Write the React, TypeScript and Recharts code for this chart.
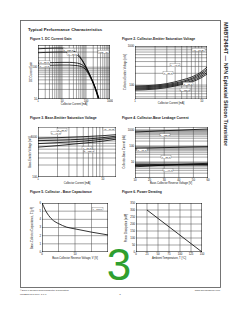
import React from 'react';
import { LineChart, Line, XAxis, YAxis } from 'recharts';

const FONT = '"Liberation Sans", Arial, Helvetica, sans-serif';

// ---------- Figure 1: DC Current Gain ----------
const f1XTicks = [1, 2, 3, 4, 5, 6, 7, 8, 9, 10, 20, 30, 40, 50, 60, 70, 80, 90, 100, 200, 300, 400, 500, 600, 700, 800, 900, 1000];
const f1YTicks = [10, 20, 30, 40, 50, 60, 70, 80, 90, 100, 200, 300, 400, 500];
const f1XLabels = [1, 10, 100, 1000];
const f1YLabels = [10, 100];
const f1X_125 = [1, 2, 5, 10, 13, 20, 35, 56, 91, 146, 237, 350];
const f1Y_125 = [380, 390, 400, 400, 390, 360, 307, 214, 117, 57, 24, 10.5];
const f1X_75 = [1, 2, 5, 10, 20, 35, 56, 91, 146, 237, 340];
const f1Y_75 = [285, 292, 298, 300, 290, 265, 200, 115, 56, 23.5, 10.5];
const f1X_25 = [1, 2, 5, 10, 20, 35, 56, 91, 146, 237, 330];
const f1Y_25 = [135, 138, 140, 142, 142, 138, 128, 100, 54, 23, 10.5];
const f1X_m40 = [1, 2, 5, 10, 20, 35, 56, 91, 146, 237, 320];
const f1Y_m40 = [112, 114, 116, 117, 117, 114, 108, 88, 50, 22, 10.5];

// ---------- Figure 2: Collector-Emitter Saturation Voltage ----------
const f2XTicks = [1, 2, 3, 4, 5, 6, 7, 8, 9, 10];
const f2YTicks = [50, 60, 70, 80, 90, 100, 200, 300, 400, 500, 600, 700, 800, 900, 1000];
const f2XLabels = [1, 10];
const f2YLabels = [100, 1000];
const f2X = [1, 2, 3, 5, 7, 10, 12];
const f2Y_a = [94.3, 100, 109, 134, 160, 222, 289];
const f2Y_b = [88.9, 94.3, 103, 123, 147, 203, 257];
const f2Y_c = [83.8, 88.9, 97, 116, 138, 186, 235];
const f2Y_d = [79, 83.8, 91.5, 109, 127, 170, 209];
const f2Y_e = [74.5, 79, 86.3, 103, 119, 156, 191];

// ---------- Figure 3: Base-Emitter Saturation Voltage ----------
const f3XTicks = [1, 2, 3, 4, 5, 6, 7, 8, 9, 10];
const f3YTicks = [100, 200, 300, 400, 500, 600, 700, 800, 900, 1000];
const f3XLabels = [1, 10];
const f3YLabels = [100, 1000];
const f3X = [1, 2, 5, 10, 16];
const f3Y_m40 = [944, 971, 1029, 1090, 1155];
const f3Y_25 = [818, 841, 891, 971, 1059];
const f3Y_75 = [688, 729, 794, 891, 971];
const f3Y_125 = [562, 613, 708, 794, 891];

// ---------- Figure 4: Collector-Base Leakage Current ----------
const f4XTicks = [10, 20, 30, 40, 50, 60];
const f4YTicks = [1, 2, 3, 4, 5, 6, 7, 8, 9, 10, 20, 30, 40, 50, 60, 70, 80, 90, 100, 200, 300, 400, 500, 600, 700, 800, 900, 1000];
const f4XLabels = [10, 20, 30, 40, 50, 60];
const f4YLabels = [10, 100, 1000];
const f4X = [10, 20, 30, 40, 50, 60];
const f4Y_125 = [731, 800, 880, 950, 1040, 1125];
const f4Y_75 = [71, 74, 78, 82, 86, 89];
const f4Y_25a = [7.1, 7.0, 6.8, 6.7, 6.6, 6.45];
const f4Y_25b = [5.0, 5.6, 6.3, 7.0, 7.6, 8.2];
const f4Y_25c = [6.0, 6.1, 6.3, 6.5, 6.8, 7.0];

// ---------- Figure 5: Collector-Base Capacitance ----------
const f5XTicks = [0, 5, 10, 15, 20];
const f5YTicks = [0, 1, 2, 3, 4, 5, 6];
const f5XLabels = [0, 10];
const f5YLabels = [0, 1, 2, 3, 4, 5, 6];
const f5X = [0, 0.5, 1, 2, 3.5, 5, 7.5, 10, 15, 20];
const f5Y = [6.0, 5.57, 5.13, 4.48, 3.83, 3.48, 3.04, 2.83, 2.43, 2.09];

// ---------- Figure 6: Power Derating ----------
const f6XTicks = [0, 25, 50, 75, 100, 125, 150];
const f6YTicks = [0, 50, 100, 150, 200, 250, 300, 350];
const f6X = [25, 150];
const f6Y = [300, 0];

const zip = (xs: number[], ys: number[]) => xs.map((x, i) => ({ x, y: ys[i] }));

type Series = { x: number[]; y: number[] };
interface PanelProps {
  px: number; py: number; pw: number; ph: number;
  xScale: 'log' | 'linear'; yScale: 'log' | 'linear';
  xDomain: [number, number]; yDomain: [number, number];
  xTicks: number[]; yTicks: number[];
  xLabels: number[]; yLabels: number[];
  series: Series[];
}

function Panel(p: PanelProps) {
  const yw = 15, xh = 5, ml = 1, mt = 2, mr = 3, mb = 1;
  const tickStyle = { fontSize: 2.8, fill: '#111', fontFamily: FONT };
  const [x0, x1] = p.xDomain;
  const [y0, y1] = p.yDomain;
  const gridV = p.xTicks.map((v) => [{ x: v, y: y0 }, { x: v, y: y1 }]);
  const gridH = p.yTicks.map((v) => [{ x: x0, y: v }, { x: x1, y: v }]);
  const frame = [
    [{ x: x0, y: y0 }, { x: x0, y: y1 }],
    [{ x: x1, y: y0 }, { x: x1, y: y1 }],
    [{ x: x0, y: y0 }, { x: x1, y: y0 }],
    [{ x: x0, y: y1 }, { x: x1, y: y1 }],
  ];
  return (
    <div style={{ position: 'absolute', left: p.px - ml - yw, top: p.py - mt }}>
      <LineChart
        width={p.pw + ml + yw + mr}
        height={p.ph + mt + mb + xh}
        margin={{ left: ml, top: mt, right: mr, bottom: mb }}
      >
        <XAxis
          type="number"
          dataKey="x"
          scale={p.xScale}
          domain={p.xDomain}
          ticks={p.xTicks}
          interval={0}
          height={xh}
          allowDataOverflow
          tickLine={false}
          axisLine={false}
          tickSize={0}
          tickMargin={1.2}
          tick={tickStyle}
          tickFormatter={(v: number) => (p.xLabels.includes(v) ? String(v) : '')}
        />
        <YAxis
          type="number"
          scale={p.yScale}
          domain={p.yDomain}
          ticks={p.yTicks}
          interval={0}
          width={yw}
          allowDataOverflow
          tickLine={false}
          axisLine={false}
          tickSize={0}
          tickMargin={1}
          tick={tickStyle}
          tickFormatter={(v: number) => (p.yLabels.includes(v) ? String(v) : '')}
        />
        {gridV.map((d, i) => (
          <Line key={'gv' + i} data={d} dataKey="y" type="linear" stroke="#4a4a4a" strokeWidth={0.5}
            dot={false} activeDot={false} isAnimationActive={false} />
        ))}
        {gridH.map((d, i) => (
          <Line key={'gh' + i} data={d} dataKey="y" type="linear" stroke="#4a4a4a" strokeWidth={0.5}
            dot={false} activeDot={false} isAnimationActive={false} />
        ))}
        {frame.map((d, i) => (
          <Line key={'fr' + i} data={d} dataKey="y" type="linear" stroke="#000" strokeWidth={0.8}
            dot={false} activeDot={false} isAnimationActive={false} />
        ))}
        {p.series.map((s, i) => (
          <Line
            key={'s' + i}
            data={zip(s.x, s.y)}
            dataKey="y"
            type="monotone"
            stroke="#000"
            strokeWidth={0.8}
            dot={false}
            activeDot={false}
            isAnimationActive={false}
          />
        ))}
      </LineChart>
    </div>
  );
}

function Tag({ x, y, w, t }: { x: number; y: number; w: number; t: string }) {
  return (
    <g>
      <rect x={x} y={y - 2.3} width={w} height={3} fill="#fff" stroke="#444" strokeWidth={0.25} />
      <text x={x + w / 2} y={y} fontSize={2.2} textAnchor="middle" fill="#111" fontFamily={FONT}>{t}</text>
    </g>
  );
}

function VText({ x, y, t }: { x: number; y: number; t: string }) {
  return (
    <text x={x} y={y} transform={`rotate(-90 ${x} ${y})`} textAnchor="middle" fontSize={2.7} fill="#111" fontFamily={FONT}>{t}</text>
  );
}

function HText({ x, y, t }: { x: number; y: number; t: string }) {
  return (
    <text x={x} y={y} textAnchor="middle" fontSize={2.7} fill="#111" fontFamily={FONT}>{t}</text>
  );
}

export default function App() {
  return (
    <div style={{ position: 'absolute', left: 0, top: 0, width: 240, height: 310, background: '#fff', overflow: 'hidden' }}>
      <Panel px={38} py={45} pw={72} ph={54} xScale="log" yScale="log" xDomain={[1, 1000]} yDomain={[10, 500]}
        xTicks={f1XTicks} yTicks={f1YTicks} xLabels={f1XLabels} yLabels={f1YLabels}
        series={[{ x: f1X_125, y: f1Y_125 }, { x: f1X_75, y: f1Y_75 }, { x: f1X_25, y: f1Y_25 }, { x: f1X_m40, y: f1Y_m40 }]} />
      <Panel px={135} py={46} pw={72} ph={53} xScale="log" yScale="log" xDomain={[1, 12]} yDomain={[44, 1000]}
        xTicks={f2XTicks} yTicks={f2YTicks} xLabels={f2XLabels} yLabels={f2YLabels}
        series={[{ x: f2X, y: f2Y_a }, { x: f2X, y: f2Y_b }, { x: f2X, y: f2Y_c }, { x: f2X, y: f2Y_d }, { x: f2X, y: f2Y_e }]} />
      <Panel px={38} py={127} pw={78} ph={50} xScale="log" yScale="log" xDomain={[1, 16]} yDomain={[100, 1800]}
        xTicks={f3XTicks} yTicks={f3YTicks} xLabels={f3XLabels} yLabels={f3YLabels}
        series={[{ x: f3X, y: f3Y_m40 }, { x: f3X, y: f3Y_25 }, { x: f3X, y: f3Y_75 }, { x: f3X, y: f3Y_125 }]} />
      <Panel px={135} py={127} pw={73} ph={51} xScale="linear" yScale="log" xDomain={[10, 60]} yDomain={[1, 1500]}
        xTicks={f4XTicks} yTicks={f4YTicks} xLabels={f4XLabels} yLabels={f4YLabels}
        series={[{ x: f4X, y: f4Y_125 }, { x: f4X, y: f4Y_75 }, { x: f4X, y: f4Y_25a }, { x: f4X, y: f4Y_25b }, { x: f4X, y: f4Y_25c }]} />
      <Panel px={42} py={203} pw={66} ph={49} xScale="linear" yScale="linear" xDomain={[0, 20]} yDomain={[0, 6]}
        xTicks={f5XTicks} yTicks={f5YTicks} xLabels={f5XLabels} yLabels={f5YLabels}
        series={[{ x: f5X, y: f5Y }]} />
      <Panel px={136} py={203} pw={66} ph={49} xScale="linear" yScale="linear" xDomain={[0, 150]} yDomain={[0, 350]}
        xTicks={f6XTicks} yTicks={f6YTicks} xLabels={f6XTicks} yLabels={f6YTicks}
        series={[{ x: f6X, y: f6Y }]} />

      <svg width={240} height={310} style={{ position: 'absolute', left: 0, top: 0, pointerEvents: 'none' }}>
        <rect x={20.5} y={20.5} width={200} height={267} fill="none" stroke="#666" strokeWidth={0.9} />
        <text x={224} y={22} transform="rotate(90 224 22)" fontSize={5.5} fontWeight="bold" fill="#222" fontFamily={FONT}>
          MMBT2484T — NPN Epitaxial Silicon Transistor
        </text>

        <text x={28} y={31} fontSize={4.3} fontWeight="bold" fill="#222" fontFamily={FONT}>Typical Performance Characteristics</text>
        <text x={30} y={39.5} fontSize={3.4} fontWeight="bold" fill="#222" fontFamily={FONT}>Figure 1. DC Current Gain</text>
        <text x={122} y={39.5} fontSize={3.4} fontWeight="bold" fill="#222" fontFamily={FONT}>Figure 2. Collector-Emitter Saturation Voltage</text>
        <text x={30} y={119} fontSize={3.4} fontWeight="bold" fill="#222" fontFamily={FONT}>Figure 3. Base-Emitter Saturation Voltage</text>
        <text x={122} y={119} fontSize={3.4} fontWeight="bold" fill="#222" fontFamily={FONT}>Figure 4. Collector-Base Leakage Current</text>
        <text x={30} y={193} fontSize={3.4} fontWeight="bold" fill="#222" fontFamily={FONT}>Figure 5. Collector - Base Capacitance</text>
        <text x={122} y={193} fontSize={3.4} fontWeight="bold" fill="#222" fontFamily={FONT}>Figure 6. Power Derating</text>

        {/* axis titles */}
        <VText x={32} y={72} t="DC Current Gain" />
        <HText x={74} y={105} t="Collector Current [mA]" />
        <VText x={126} y={72} t="Collector-Emitter Voltage [mV]" />
        <HText x={171} y={104} t="Collector Current [mA]" />
        <VText x={31} y={152} t="Base-Emitter Voltage [mV]" />
        <HText x={77} y={184} t="Collector Current [mA]" />
        <VText x={125} y={152} t="Collector-Base Current [nA]" />
        <HText x={171} y={184} t="Base-Collector Reverse Voltage [V]" />
        <VText x={33} y={228} t="Base-Collector Capacitance, C  [pF]" />
        <HText x={75} y={259} t="Base-Collector Reverse Voltage, V  [V]" />
        <VText x={127} y={228} t="Power Dissipation [mW]" />
        <HText x={169} y={259} t="Ambient Temperature, T  [°C]" />

        {/* annotations */}
        <Tag x={98} y={52.5} w={11} t="VCE = 5V" />
        <Tag x={63} y={50.5} w={11} t="T = 125°C" />
        <Tag x={67} y={54.5} w={11} t="T = 75°C" />
        <Tag x={39} y={63} w={11} t="T = 25°C" />
        <Tag x={39} y={66.8} w={11} t="T = -40°C" />

        <Tag x={192} y={50.5} w={13} t="IC = 10 IB" />
        <Tag x={170} y={66} w={10} t="T = -40°C" />
        <Tag x={163} y={74} w={10} t="T = 25°C" />
        <Tag x={183} y={84.5} w={10} t="T = 75°C" />
        <Tag x={180} y={90.5} w={10} t="T = 125°C" />

        <Tag x={103} y={130} w={12} t="IC = 10 IB" />
        <Tag x={57} y={130.5} w={10} t="T = 25°C" />
        <Tag x={51} y={134} w={10} t="T = -40°C" />
        <Tag x={82} y={149} w={10} t="T = 75°C" />
        <Tag x={84} y={152} w={10} t="T = 125°C" />

        <Tag x={160} y={136} w={10} t="T = 125°C" />
        <Tag x={137} y={151} w={10} t="T = 75°C" />
        <Tag x={161} y={158} w={10} t="T = 25°C" />
        <Tag x={163} y={171} w={10} t="T = -40°C" />

        <Tag x={92} y={210} w={11} t="f = 1MHz" />

        {/* big page marker */}
        <text x={119} y={280} fontSize={44} textAnchor="middle" fill="#2f9f2f" fontFamily={FONT}>3</text>

        {/* footer */}
        <text x={20} y={291} fontSize={2.5} fill="#333" fontFamily={FONT}>©2007 Fairchild Semiconductor Corporation</text>
        <text x={20} y={295} fontSize={2.5} fill="#333" fontFamily={FONT}>MMBT2484T Rev. 1.0.0</text>
        <text x={220} y={291} fontSize={2.5} fill="#333" textAnchor="end" fontFamily={FONT}>www.fairchildsemi.com</text>
        <text x={120} y={295} fontSize={2.5} fill="#333" textAnchor="middle" fontFamily={FONT}>3</text>
      </svg>
    </div>
  );
}
